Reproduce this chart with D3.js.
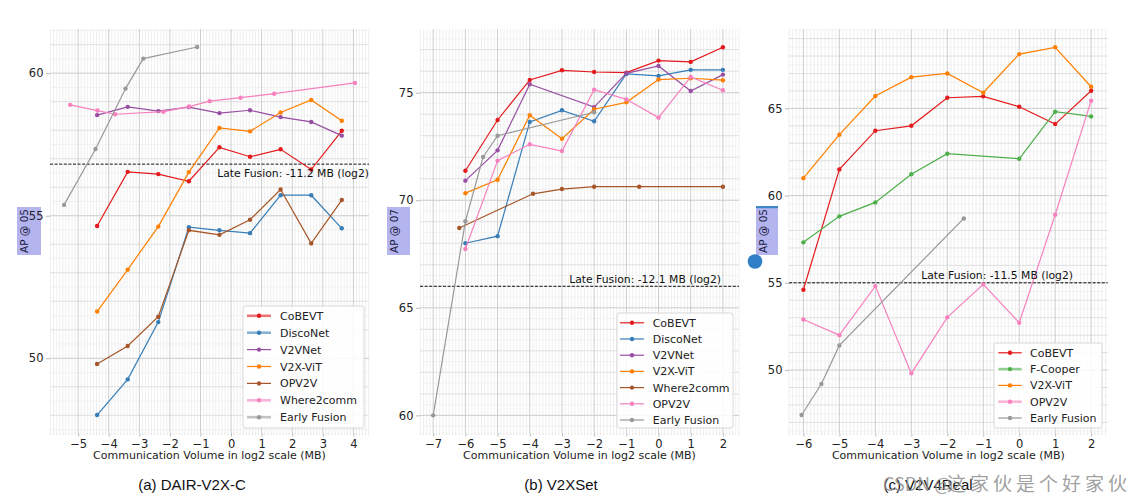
<!DOCTYPE html>
<html><head><meta charset="utf-8">
<script src="https://cdn.jsdelivr.net/npm/d3@7"></script>
<style>body{margin:0;background:#fff}svg{display:block}</style>
</head><body>
<svg id="chart" width="1133" height="503"></svg>
<script>
// ---------------- DATA ----------------
// (a) DAIR-V2X-C
const dairNames = ["CoBEVT","DiscoNet","V2VNet","V2X-ViT","OPV2V","Where2comm","Early Fusion"];
const dairX = [-4.38,-3.38,-2.38,-1.38,-0.38,0.62,1.62,2.62,3.62];
const dairCoBEVT = [54.64,56.54,56.46,56.21,57.40,57.07,57.33,56.62,57.98];
const dairDiscoNet = [48.01,49.26,51.27,54.60,54.49,54.39,55.72,55.72,54.56];
const dairV2VNet = [58.53,58.82,58.67,58.81,58.60,58.70,58.46,58.29,57.81];
const dairV2XViT = [51.64,53.11,54.62,56.53,58.08,57.96,58.62,59.06,58.33];
const dairOPV2V = [49.80,50.43,51.46,54.49,54.33,54.86,55.92,54.03,55.55];
const dairWhere2commX = [-5.26,-4.37,-3.79,-2.21,-1.37,-0.70,0.31,1.41,4.05];
const dairWhere2comm = [58.89,58.69,58.56,58.65,58.83,59.02,59.14,59.28,59.66];
const dairEarlyX = [-5.46,-4.43,-3.45,-2.87,-1.11];
const dairEarly = [55.38,57.34,59.46,60.51,60.92];
const dairLate = 56.81;
const dairXTicks = [-5,-4,-3,-2,-1,0,1,2,3,4];
const dairYTicks = [50,55,60];

// (b) V2XSet
const v2xsetNames = ["CoBEVT","DiscoNet","V2VNet","V2X-ViT","Where2comm","OPV2V","Early Fusion"];
const v2xsetX = [-6,-5,-4,-3,-2,-1,0,1,2];
const v2xsetCoBEVT = [71.37,73.73,75.59,76.04,75.96,75.93,76.49,76.43,77.11];
const v2xsetDiscoNet = [68.00,68.33,73.64,74.18,73.67,75.87,75.78,76.06,76.06];
const v2xsetV2VNetX = [-6,-5,-4,-2,-1,0,1,2];
const v2xsetV2VNet = [70.91,72.32,75.39,74.33,75.90,76.24,75.08,75.84];
const v2xsetV2XViT = [70.33,70.95,73.95,72.86,74.23,74.55,75.61,75.67,75.58];
const v2xsetWhere2commX = [-6.19,-3.9,-3,-2,-0.6,2];
const v2xsetWhere2comm = [68.71,70.30,70.52,70.63,70.63,70.63];
const v2xsetOPV2V = [67.73,71.84,72.60,72.29,75.14,74.69,73.84,75.73,75.11];
const v2xsetEarlyX = [-7,-6,-5.45,-5,-2];
const v2xsetEarly = [60.0,69.02,72.01,73.0,74.09];
const v2xsetLate = 66.0;
const v2xsetXTicks = [-7,-6,-5,-4,-3,-2,-1,0,1,2];
const v2xsetYTicks = [60,65,70,75];

// (c) V2V4Real
const v2v4Names = ["CoBEVT","F-Cooper","V2X-ViT","OPV2V","Early Fusion"];
const v2v4X = [-6,-5,-4,-3,-2,-1,0,1,2];
const v2v4CoBEVT = [54.60,61.50,63.72,64.00,65.61,65.69,65.09,64.10,66.01];
const v2v4FCooperX = [-6,-5,-4,-3,-2,0,1,2];
const v2v4FCooper = [57.32,58.81,59.61,61.22,62.40,62.11,64.81,64.54];
const v2v4V2XViT = [61.00,63.49,65.71,66.79,67.00,65.90,68.11,68.50,66.24];
const v2v4OPV2V = [52.90,52.00,54.81,49.81,53.02,54.91,52.71,58.90,65.44];
const v2v4EarlyX = [-6.05,-5.5,-5,-1.54];
const v2v4Early = [47.42,49.20,51.41,58.69];
const v2v4Late = 55.0;
const v2v4XTicks = [-6,-5,-4,-3,-2,-1,0,1,2];
const v2v4YTicks = [50,55,60,65];

const lateLabels = ["Late Fusion: -11.2 MB (log2)","Late Fusion: -12.1 MB (log2)","Late Fusion: -11.5 MB (log2)"];
const yLabels = ["AP @ 05","AP @ 07","AP @ 05"];
const captions = ["(a) DAIR-V2X-C","(b) V2XSet","(c) V2V4Real"];
const xLabel = "Communication Volume in log2 scale (MB)";

// ---------------- STYLE ----------------
const colors = {"CoBEVT":"#e41a1c","DiscoNet":"#377eb8","V2VNet":"#984ea3","V2X-ViT":"#ff7f00",
  "OPV2V":null,"Where2comm":null,"Early Fusion":"#999999","F-Cooper":"#4daf4a"};
const BROWN="#a65628", PINK="#f781bf";

const panels = [
  {names:dairNames, series:{
      "CoBEVT":[dairX,dairCoBEVT],"DiscoNet":[dairX,dairDiscoNet],"V2VNet":[dairX,dairV2VNet],
      "V2X-ViT":[dairX,dairV2XViT],"OPV2V":[dairX,dairOPV2V],"Where2comm":[dairWhere2commX,dairWhere2comm],
      "Early Fusion":[dairEarlyX,dairEarly]},
   col:{"OPV2V":BROWN,"Where2comm":PINK}, thick:["CoBEVT","DiscoNet","Where2comm","Early Fusion"],
   late:dairLate, xTicks:dairXTicks, yTicks:dairYTicks,
   L:50,R:369,T:29,B:433, xd:[-5.92,4.51], yd:[47.38,61.55], lateBelow:true,
   leg:{x:243,y:306,w:121,h:122,row:16.9,line0:247,line1:271,text:280},
   box:{x:17,y:207,w:24,h:48}, cap:192},
  {names:v2xsetNames, series:{
      "CoBEVT":[v2xsetX,v2xsetCoBEVT],"DiscoNet":[v2xsetX,v2xsetDiscoNet],"V2VNet":[v2xsetV2VNetX,v2xsetV2VNet],
      "V2X-ViT":[v2xsetX,v2xsetV2XViT],"Where2comm":[v2xsetWhere2commX,v2xsetWhere2comm],"OPV2V":[v2xsetX,v2xsetOPV2V],
      "Early Fusion":[v2xsetEarlyX,v2xsetEarly]},
   col:{"Where2comm":BROWN,"OPV2V":PINK}, thick:[],
   late:v2xsetLate, xTicks:v2xsetXTicks, yTicks:v2xsetYTicks,
   L:420,R:739,T:29,B:433, xd:[-7.41,2.5], yd:[59.18,77.96], lateBelow:false,
   leg:{x:617,y:313,w:116,h:115,row:16.2,line0:620,line1:644,text:652.7},
   box:{x:387,y:207,w:23,h:48}, cap:561},
  {names:v2v4Names, series:{
      "CoBEVT":[v2v4X,v2v4CoBEVT],"F-Cooper":[v2v4FCooperX,v2v4FCooper],"V2X-ViT":[v2v4X,v2v4V2XViT],
      "OPV2V":[v2v4X,v2v4OPV2V],"Early Fusion":[v2v4EarlyX,v2v4Early]},
   col:{"OPV2V":PINK}, thick:["F-Cooper","OPV2V"],
   late:v2v4Late, xTicks:v2v4XTicks, yTicks:v2v4YTicks,
   L:789,R:1107.7,T:29,B:433, xd:[-6.40,2.46], yd:[46.39,69.55], lateBelow:false,
   leg:{x:994,y:343,w:108,h:85,row:16.3,line0:998.3,line1:1021.7,text:1030},
   box:{x:756,y:207,w:22,h:48}, cap:928}
];

const FONT = "'DejaVu Sans', sans-serif";
const svg = d3.select("#chart");

panels.forEach((p, pi) => {
  const x = d3.scaleLinear().domain(p.xd).range([p.L, p.R]);
  const y = d3.scaleLinear().domain(p.yd).range([p.B, p.T]);
  const g = svg.append("g");

  // y label highlight box (drawn first so tick labels stay visible)
  const b = p.box;
  g.append("rect").attr("x", b.x).attr("y", b.y).attr("width", b.w).attr("height", b.h).attr("fill", "#b4b4ef");
  if (pi === 2) {
    g.append("rect").attr("x", b.x).attr("y", b.y-1).attr("width", b.w).attr("height", 2.2).attr("fill", "#3d87c8");
  }
  g.append("text").attr("transform", `translate(${b.x + 10.8},${b.y + b.h/2}) rotate(-90)`)
    .attr("text-anchor","middle").attr("font-family", FONT).attr("font-size", 10.5).attr("fill","#1c1c40")
    .text(yLabels[pi]);

  // minor vertical grid
  const minorX = d3.range(Math.ceil(p.xd[0]*10), Math.floor(p.xd[1]*10)+1).filter(i => i % 10 !== 0).map(i => i/10);
  g.selectAll(".mvx").data(minorX).join("line")
    .attr("x1", d => x(d)).attr("x2", d => x(d)).attr("y1", p.T).attr("y2", p.B)
    .attr("stroke", "#ebebeb").attr("stroke-width", 0.8);
  // minor horizontal grid (every 0.5)
  const minorY = d3.range(Math.ceil(p.yd[0]*2), Math.floor(p.yd[1]*2)+1).filter(i => i % 2 !== 0).map(i => i/2);
  g.selectAll(".mhy").data(minorY).join("line")
    .attr("x1", p.L).attr("x2", p.R).attr("y1", d => y(d)).attr("y2", d => y(d))
    .attr("stroke", "#f0f0f0").attr("stroke-width", 0.8);
  // unit horizontal grid
  const unitY = d3.range(Math.ceil(p.yd[0]), Math.floor(p.yd[1])+1).filter(v => v % 5 !== 0);
  g.selectAll(".uhy").data(unitY).join("line")
    .attr("x1", p.L).attr("x2", p.R).attr("y1", d => y(d)).attr("y2", d => y(d))
    .attr("stroke", "#e0e0e0").attr("stroke-width", 1);
  // major grid
  g.selectAll(".gx").data(p.xTicks).join("line")
    .attr("x1", d => x(d)).attr("x2", d => x(d)).attr("y1", p.T).attr("y2", p.B)
    .attr("stroke", "#cccccc").attr("stroke-width", 1);
  g.selectAll(".gy").data(p.yTicks).join("line")
    .attr("x1", p.L).attr("x2", p.R).attr("y1", d => y(d)).attr("y2", d => y(d))
    .attr("stroke", "#cccccc").attr("stroke-width", 1);

  // minor ticks bottom
  g.selectAll(".mt").data(minorX).join("line")
    .attr("x1", d => x(d)).attr("x2", d => x(d)).attr("y1", p.B).attr("y2", p.B+2)
    .attr("stroke", "#d8d8d8").attr("stroke-width", 0.7);

  // axes
  const xAxis = d3.axisBottom(x).tickValues(p.xTicks).tickSize(3.5).tickPadding(3)
    .tickFormat(d => d < 0 ? "\u2212" + Math.abs(d) : String(d));
  const gx = g.append("g").attr("transform", `translate(0,${p.B})`).call(xAxis);
  gx.select(".domain").remove();
  gx.selectAll("line").attr("stroke", "#bbbbbb");
  gx.selectAll("text").attr("font-family", FONT).attr("font-size", 11.5).attr("fill", "#222");

  const yAxis = d3.axisLeft(y).tickValues(p.yTicks).tickSize(4).tickPadding(2.5);
  const gy = g.append("g").attr("transform", `translate(${p.L},0)`).call(yAxis);
  gy.select(".domain").remove();
  gy.selectAll("line").attr("stroke", "#bbbbbb");
  gy.selectAll("text").attr("font-family", FONT).attr("font-size", 11.5).attr("fill", "#222");

  // x label
  g.append("text").attr("x", (p.L+p.R)/2).attr("y", p.B+26).attr("text-anchor","middle")
    .attr("font-family", FONT).attr("font-size", 11).attr("fill","#222").text(xLabel);

  if (pi === 2) {
    g.append("circle").attr("cx", 755).attr("cy", 261.5).attr("r", 7.3).attr("fill", "#2f7ec6");
  }

  // late fusion line
  g.append("line").attr("x1", p.L).attr("x2", p.R).attr("y1", y(p.late)).attr("y2", y(p.late))
    .attr("stroke", "#111").attr("stroke-width", 1).attr("stroke-dasharray", "3,1.6");

  // series
  const line = d3.line().x(d => x(d[0])).y(d => y(d[1]));
  const colOf = n => p.col[n] || colors[n];
  p.names.forEach(n => {
    const [xs, ys] = p.series[n];
    const pts = xs.map((v, i) => [v, ys[i]]);
    g.append("path").datum(pts).attr("d", line).attr("fill","none")
      .attr("stroke", colOf(n)).attr("stroke-width", 1.2);
    g.selectAll(null).data(pts).join("circle")
      .attr("cx", d => x(d[0])).attr("cy", d => y(d[1])).attr("r", 2.2).attr("fill", colOf(n));
  });

  // late fusion label
  if (p.lateBelow) {
    g.append("text").attr("x", p.R).attr("y", y(p.late) + 13).attr("text-anchor","end")
      .attr("font-family", FONT).attr("font-size", 10.8).attr("fill","#111").text(lateLabels[pi]);
  } else {
    g.append("text").attr("x", pi === 1 ? 721 : 1073).attr("y", y(p.late) - 3.5).attr("text-anchor","end")
      .attr("font-family", FONT).attr("font-size", 10.8).attr("fill","#111").text(lateLabels[pi]);
  }

  // legend
  const lg = p.leg;
  g.append("rect").attr("x", lg.x).attr("y", lg.y).attr("width", lg.w).attr("height", lg.h)
    .attr("rx", 2.5).attr("fill", "rgba(255,255,255,0.85)").attr("stroke", "#d5d5d5").attr("stroke-width", 0.9);
  p.names.forEach((n, i) => {
    const cy = lg.y + 9.8 + i * lg.row;
    const thick = p.thick.includes(n);
    g.append("line").attr("x1", lg.line0).attr("x2", lg.line1).attr("y1", cy).attr("y2", cy)
      .attr("stroke", colOf(n)).attr("stroke-width", thick ? 2.6 : 1.2).attr("stroke-opacity", thick ? 0.6 : 1);
    g.append("circle").attr("cx", (lg.line0+lg.line1)/2).attr("cy", cy).attr("r", 2.2).attr("fill", colOf(n));
    g.append("text").attr("x", lg.text).attr("y", cy + 4).attr("font-family", FONT).attr("font-size", 11)
      .attr("fill","#222").text(n);
  });

  // caption
  g.append("text").attr("x", p.cap).attr("y", 489.5).attr("text-anchor","middle")
    .attr("font-family","'Liberation Sans', Arial, sans-serif").attr("font-size", 15).attr("fill","#111")
    .text(captions[pi]);
});

// watermark (overlaps caption (c) as in the reference)
svg.append("text").attr("x", 883).attr("y", 491).attr("font-family","'Noto Sans CJK SC', sans-serif")
  .attr("font-size", 18).attr("fill","#8f8f8f").attr("fill-opacity",0.85).text("CSDN @");
svg.append("text").attr("x", 947).attr("y", 491).attr("font-family","'Noto Sans CJK SC', sans-serif")
  .attr("font-size", 19).attr("fill","#8f8f8f").attr("fill-opacity",0.85)
  .attr("textLength", 180).attr("lengthAdjust","spacing").text("这家伙是个好家伙");
</script>
</body></html>
